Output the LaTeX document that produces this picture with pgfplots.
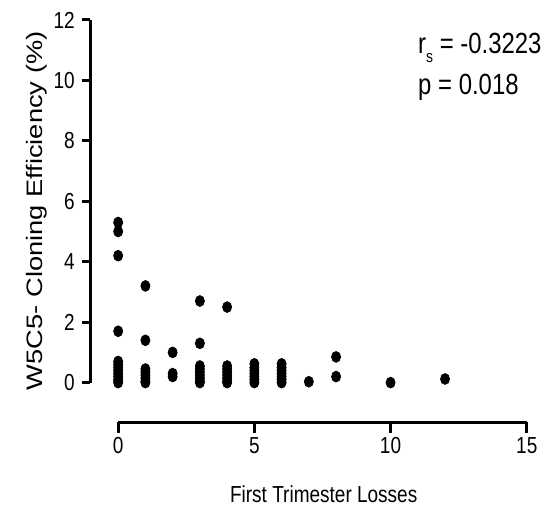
\documentclass[border=0pt]{standalone}
\usepackage{graphicx}
\usepackage{pgfplots}
\pgfplotsset{compat=1.18}
\usepackage{fontspec}
\setmainfont[FakeStretch=0.82]{Liberation Sans}
\newfontfamily\plainsans{Liberation Sans}

\begin{document}
\begin{tikzpicture}
\begin{axis}[
  scale only axis,
  width  = 204.5pt,
  height = 181.5pt,
  xmin = 0, xmax = 15,
  ymin = 0, ymax = 12,
  clip = false,
  axis lines = left,
  axis line style = {-, line width=1.5pt},
  axis x line shift = 19.75pt,
  axis y line shift = 13.9pt,
  tick align = outside,
  tick style = {black, line width=1.5pt},
  xtick style = {/pgfplots/major tick length=5.3pt},
  ytick style = {/pgfplots/major tick length=4pt},
  minor tick num = 0,
  xtick = {0,5,10,15},
  ytick = {0,2,4,6,8,10,12},
  /pgf/number format/assume math mode=true,
  tick label style = {font=\fontsize{11.6}{12}\selectfont},
  xlabel = {First Trimester Losses},
  % the reference is squeezed sideways, so the upright label is narrow, not short
  ylabel = {\scalebox{1}[0.82]{\plainsans\fontsize{13.65}{14}\selectfont W5C5- Cloning Efficiency (\%)}},
  every axis x label/.style = {at={(axis description cs:0.503,-0.3314)}, anchor=base,
    font=\fontsize{11.6}{12}\selectfont},
  every axis y label/.style = {at={(axis description cs:-0.1856,0.474)}, anchor=base, rotate=90},
]

\addplot[only marks, mark=*, mark size=2.7pt,
  mark options={fill=black, draw=black, xscale=0.84}] coordinates {
  % 0 losses
  (0,5.3)(0,5.0)(0,4.2)(0,1.7)(0,0.7)(0,0.6)(0,0.5)(0,0.4)(0,0.3)(0,0.2)(0,0.1)(0,0.05)(0,0)
  % 1
  (1,3.2)(1,1.4)(1,0.45)(1,0.35)(1,0.25)(1,0.15)(1,0.05)(1,0)
  % 2
  (2,1.0)(2,0.3)(2,0.2)
  % 3
  (3,2.7)(3,1.3)(3,0.55)(3,0.45)(3,0.35)(3,0.25)(3,0.15)(3,0.05)(3,0)
  % 4
  (4,2.5)(4,0.55)(4,0.45)(4,0.35)(4,0.25)(4,0.15)(4,0.05)(4,0)
  % 5
  (5,0.62)(5,0.5)(5,0.4)(5,0.3)(5,0.2)(5,0.1)(5,0)
  % 6
  (6,0.62)(6,0.5)(6,0.4)(6,0.3)(6,0.2)(6,0.1)(6,0)
  % 7, 8, 10, 12
  (7,0.03)(8,0.85)(8,0.2)(10,0.0)(12,0.12)
};

% anchor is the baseline of the last line (p = ...)
\node[anchor=base west, inner sep=0pt, align=left,
  font=\fontsize{14.6}{20.3}\selectfont] at (axis cs:11,9.55)
  {r\raisebox{-4.5pt}{\fontsize{8.5}{9}\selectfont s} = -0.3223\\p = 0.018};

% page size of the reference
\path (axis cs:-4.338,-4.066) rectangle (axis cs:15.61,12.661);
\end{axis}
\end{tikzpicture}
\end{document}
